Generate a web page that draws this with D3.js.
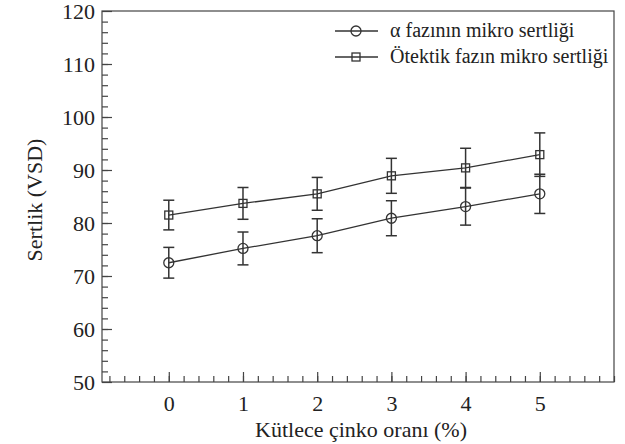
<!DOCTYPE html>
<meta charset="utf-8">
<style>
    body { margin: 0; background: #fff; }
    svg text { font-family: "Liberation Serif", serif; fill: #222; }
    .frame { fill: none; stroke: #444; stroke-width: 1.2px; }
    .axis path { display: none; }
    .axis line { stroke: #444; stroke-width: 1.2px; }
    .series path { fill: none; stroke: #333; stroke-width: 1.3px; }
    .err line { stroke: #333; stroke-width: 1.5px; }
</style>
<script src="https://d3js.org/d3.v7.min.js"></script>
<svg width="625" height="444"></svg>
<script>

    var zinc = [0, 1, 2, 3, 4, 5];
    var alphaVals = [72.5, 75.2, 77.6, 80.9, 83.1, 85.5];
    var alphaErr = [2.9, 3.1, 3.2, 3.3, 3.5, 3.7];
    var eutVals = [81.5, 83.7, 85.5, 88.9, 90.4, 92.9];
    var eutErr = [2.8, 3.0, 3.1, 3.3, 3.7, 4.1];
    var seriesNames = ["\u03b1 faz\u0131n\u0131n mikro sertli\u011fi", "\u00d6tektik faz\u0131n mikro sertli\u011fi"];
    var yTicks = [50, 60, 70, 80, 90, 100, 110, 120];

    var svg = d3.select("svg"),
        plotL = 102, plotR = 614, plotT = 11, plotB = 382,
        serif = "Liberation Serif";

    var x = d3.scaleLinear().domain([-0.9, 6]).range([plotL, plotR]);
    var y = d3.scaleLinear().domain([50, 120]).range([plotB, plotT]);

    // minor ticks first, majors with labels on top
    svg.append("g")
        .attr("class", "axis")
        .attr("transform", "translate(0," + plotB + ")")
        .call(d3.axisBottom(x).tickValues(d3.range(-0.8, 6.01, 0.2)).tickSize(-6).tickFormat(""));
    svg.append("g")
        .attr("class", "axis")
        .attr("transform", "translate(0," + plotB + ")")
        .call(d3.axisBottom(x).tickValues(zinc).tickSize(-10).tickPadding(13).tickFormat(d3.format("d")))
        .attr("font-family", serif)
        .attr("font-size", 22);

    svg.append("g")
        .attr("class", "axis")
        .attr("transform", "translate(" + plotL + ",0)")
        .call(d3.axisLeft(y).tickValues(d3.range(52, 120, 2)).tickSize(-6).tickFormat(""));
    svg.append("g")
        .attr("class", "axis")
        .attr("transform", "translate(" + plotL + ",0)")
        .call(d3.axisLeft(y).tickValues(yTicks).tickSize(-10).tickPadding(7).tickFormat(d3.format("d")))
        .attr("font-family", serif)
        .attr("font-size", 22);

    svg.append("rect")
        .attr("class", "frame")
        .attr("x", plotL).attr("y", plotT)
        .attr("width", plotR - plotL).attr("height", plotB - plotT);

    svg.append("text")
        .attr("x", 361).attr("y", 437)
        .attr("text-anchor", "middle")
        .attr("font-family", serif)
        .style("font-size", "22px")
        .text("K\u00fctlece \u00e7inko oran\u0131 (%)");

    svg.append("text")
        .attr("transform", "translate(42,200) rotate(-90)")
        .attr("text-anchor", "middle")
        .attr("font-family", serif)
        .style("font-size", "22px")
        .text("Sertlik (VSD)");

    var line = d3.line()
        .x(function (d) { return x(d.x); })
        .y(function (d) { return y(d.v); });

    function rows(vals, errs) {
        return zinc.map(function (z, i) { return {x: z, v: vals[i], e: errs[i]}; });
    }

    var data = [
        {name: seriesNames[0], shape: "circle", rows: rows(alphaVals, alphaErr)},
        {name: seriesNames[1], shape: "square", rows: rows(eutVals, eutErr)}
    ];

    function marker(g, shape, cx, cy) {
        if (shape === "circle") {
            g.append("circle").attr("cx", cx).attr("cy", cy).attr("r", 5)
                .attr("fill", "none").attr("stroke", "#333").attr("stroke-width", 1.3);
        } else {
            g.append("rect").attr("x", cx - 4).attr("y", cy - 4).attr("width", 8).attr("height", 8)
                .attr("fill", "none").attr("stroke", "#333").attr("stroke-width", 1.3);
        }
    }

    data.forEach(function (s) {
        var g = svg.append("g").attr("class", "series");
        g.append("path").attr("d", line(s.rows));

        var eb = g.append("g").attr("class", "err").selectAll("g")
            .data(s.rows).enter().append("g");
        eb.append("line")
            .attr("x1", function (d) { return x(d.x); })
            .attr("x2", function (d) { return x(d.x); })
            .attr("y1", function (d) { return y(d.v - d.e); })
            .attr("y2", function (d) { return y(d.v + d.e); });
        eb.append("line")
            .attr("x1", function (d) { return x(d.x) - 5.5; })
            .attr("x2", function (d) { return x(d.x) + 5.5; })
            .attr("y1", function (d) { return y(d.v + d.e); })
            .attr("y2", function (d) { return y(d.v + d.e); });
        eb.append("line")
            .attr("x1", function (d) { return x(d.x) - 5.5; })
            .attr("x2", function (d) { return x(d.x) + 5.5; })
            .attr("y1", function (d) { return y(d.v - d.e); })
            .attr("y2", function (d) { return y(d.v - d.e); });

        s.rows.forEach(function (d) { marker(g, s.shape, x(d.x), y(d.v)); });
    });

    // legend
    var legend = svg.append("g").attr("class", "series");
    data.forEach(function (s, i) {
        var ly = 31 + i * 26;
        legend.append("path").attr("d", "M335," + ly + "H378");
        marker(legend, s.shape, 356, ly);
        legend.append("text")
            .attr("x", 390).attr("y", ly + 6)
            .attr("font-family", serif)
            .style("font-size", "20px")
            .text(s.name);
    });
</script>
